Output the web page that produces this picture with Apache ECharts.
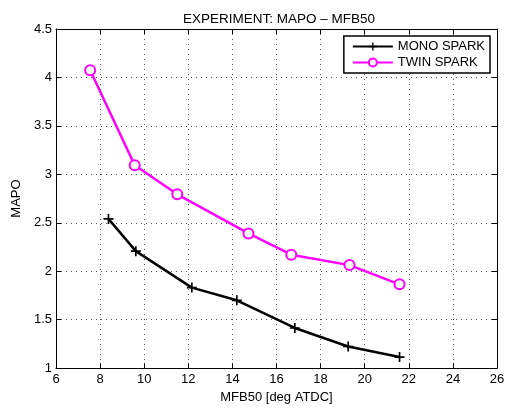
<!DOCTYPE html>
<html><head><meta charset="utf-8">
<script src="https://cdn.jsdelivr.net/npm/echarts@6/dist/echarts.min.js"></script>
<style>html,body{margin:0;padding:0;background:#fff}#c{width:512px;height:409px}</style>
</head><body><div id="c"></div>
<script>
var monoX = [8.38, 9.62, 12.16, 14.2, 16.83, 19.25, 21.58];
var monoY = [2.54, 2.207, 1.831, 1.70, 1.414, 1.223, 1.114];
var twinX = [7.55, 9.57, 11.5, 14.73, 16.67, 19.31, 21.58];
var twinY = [4.075, 3.094, 2.794, 2.39, 2.17, 2.063, 1.865];
var xTicks = [6, 8, 10, 12, 14, 16, 18, 20, 22, 24, 26];
var yTicks = [1, 1.5, 2, 2.5, 3, 3.5, 4, 4.5];

function pairs(xs, ys){ return xs.map(function(x,i){return [x, ys[i]];}); }
var plus = 'path://M-1,-0.17H-0.17V-1H0.17V-0.17H1V0.17H0.17V1H-0.17V0.17H-1Z';
var font = 'Liberation Sans, Arial, sans-serif';
var fs = 13;
var chart = echarts.init(document.getElementById('c'));
var axBase = {
  axisLine: {show: true, lineStyle: {color: '#000', width: 1}},
  axisTick: {show: true, inside: true, length: 5, lineStyle: {color: '#000'}},
  splitLine: {show: false}
};
chart.setOption({
  animation: false,
  title: {text: 'EXPERIMENT: MAPO \u2013 MFB50', left: 178, top: 7,
    textStyle: {fontFamily: font, fontSize: 13.5, fontWeight: 'normal', color: '#000'}},
  grid: {left: 56, right: 15, top: 29, bottom: 38, containLabel: false},
  legend: {
    right: 22, top: 36, orient: 'vertical', itemGap: 3, itemWidth: 40, itemHeight: 10,
    backgroundColor: '#fff', borderColor: '#000', borderWidth: 1.5, padding: [4, 5, 4, 8],
    textStyle: {fontFamily: font, fontSize: fs, color: '#000'},
    data: ['MONO SPARK', 'TWIN SPARK']
  },
  xAxis: [
    Object.assign({}, axBase, {type: 'value', min: 6, max: 26, interval: 2, position: 'bottom',
      name: 'MFB50 [deg ATDC]', nameLocation: 'middle', nameGap: 21,
      nameTextStyle: {fontFamily: font, fontSize: fs, color: '#000'},
      axisLabel: {fontFamily: font, fontSize: fs, color: '#000', margin: 5,
        formatter: function(v){ return xTicks.indexOf(v) >= 0 ? String(v) : ''; }},
      splitLine: {show: true, lineStyle: {color: '#555', type: [1, 4], width: 1}}}),
    Object.assign({}, axBase, {type: 'value', min: 6, max: 26, interval: 2, position: 'top',
      axisLabel: {show: false}})
  ],
  yAxis: [
    Object.assign({}, axBase, {type: 'value', min: 1, max: 4.5, interval: 0.5, position: 'left',
      name: 'MAPO', nameLocation: 'middle', nameGap: 33, nameRotate: 90,
      nameTextStyle: {fontFamily: font, fontSize: fs, color: '#000'},
      axisLabel: {fontFamily: font, fontSize: fs, color: '#000', margin: 4,
        formatter: function(v){ return yTicks.indexOf(v) >= 0 ? String(v) : ''; }},
      splitLine: {show: true, lineStyle: {color: '#555', type: [1, 4], width: 1}}}),
    Object.assign({}, axBase, {type: 'value', min: 1, max: 4.5, interval: 0.5, position: 'right',
      axisLabel: {show: false}})
  ],
  series: [
    {name: 'MONO SPARK', type: 'line', data: pairs(monoX, monoY),
      symbol: plus, symbolSize: 10, showAllSymbol: true,
      lineStyle: {color: '#000', width: 2.5}, itemStyle: {color: '#000'}},
    {name: 'TWIN SPARK', type: 'line', data: pairs(twinX, twinY),
      symbol: 'circle', symbolSize: 10, showAllSymbol: true,
      lineStyle: {color: '#ff00ff', width: 2.5},
      itemStyle: {color: '#fff', borderColor: '#ff00ff', borderWidth: 2}}
  ]
});
</script></body></html>
